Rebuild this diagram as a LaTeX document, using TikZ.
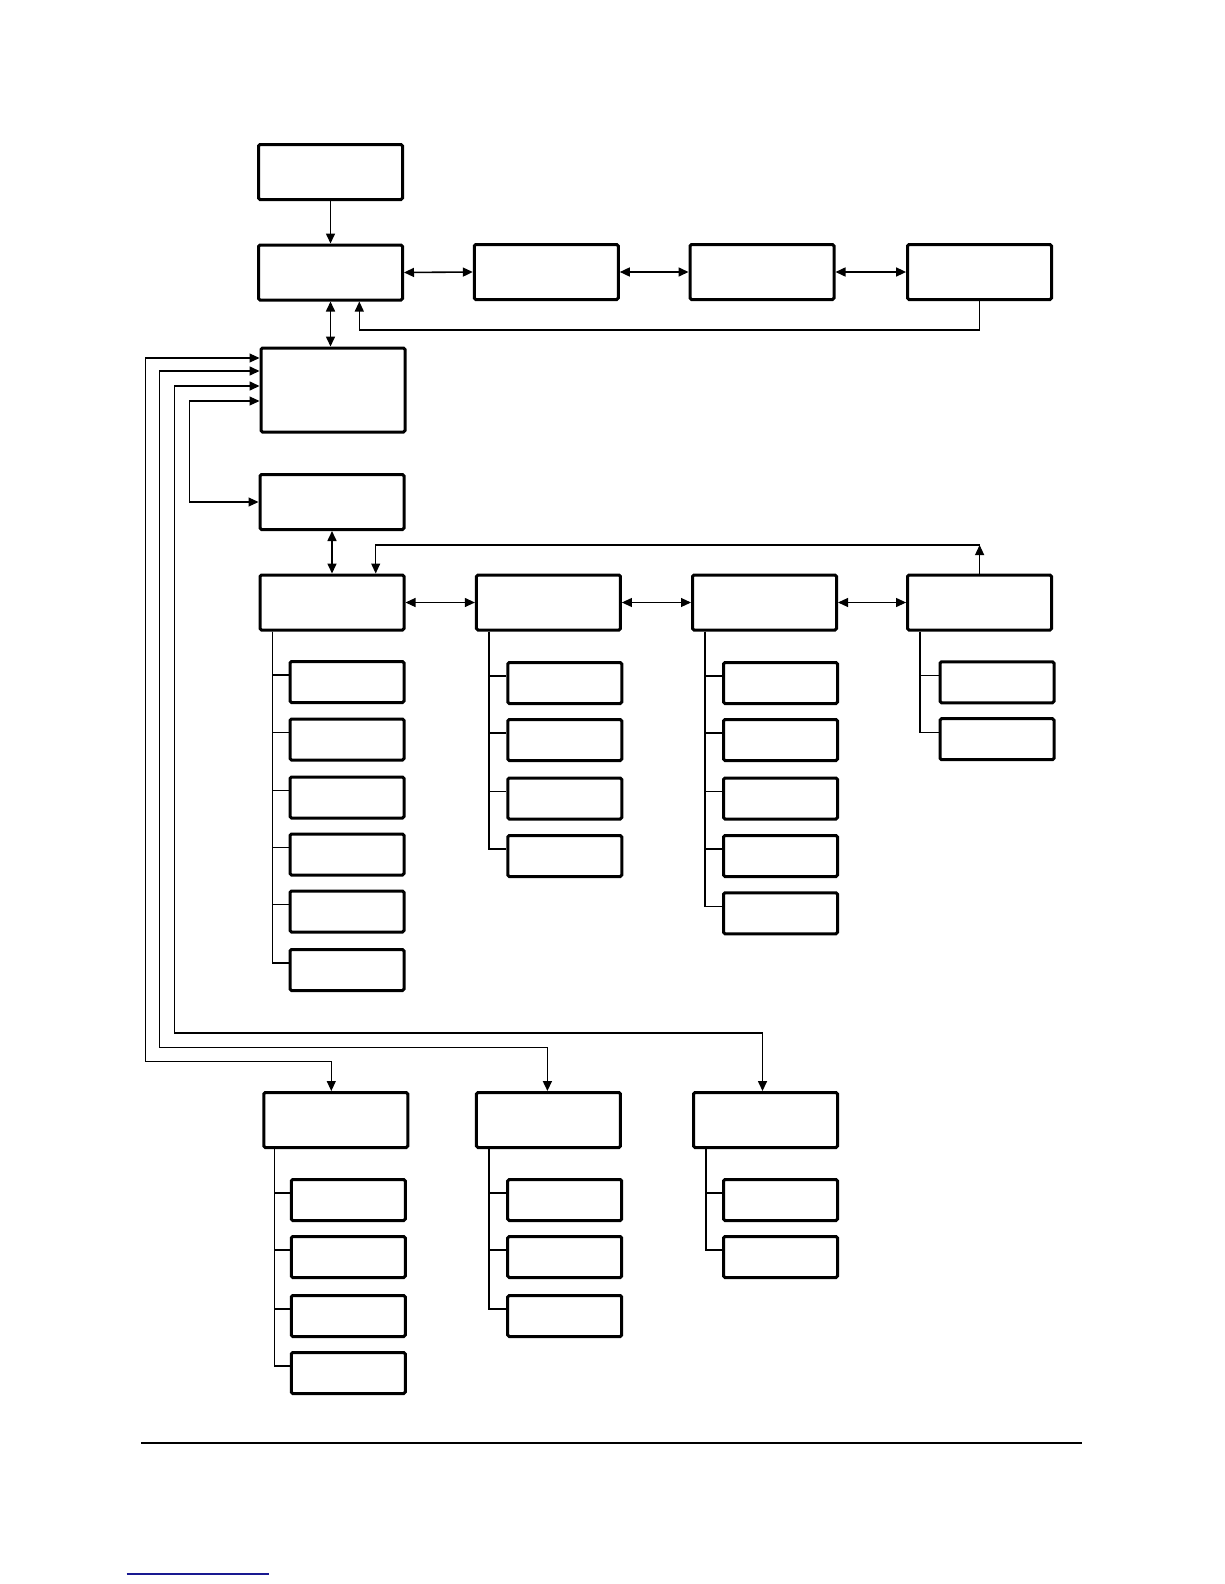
\documentclass[tikz,border=0pt]{standalone}
\usepackage{tikz}
\usetikzlibrary{arrows.meta}
\definecolor{linkblue}{RGB}{25,25,145}

\begin{document}
\begin{tikzpicture}[x=1pt, y=-1pt,
    box/.style={draw, line width=3pt, rounded corners=1.5pt, minimum width=144pt,
                minimum height=55pt, inner sep=0pt},
    tallbox/.style={box, minimum height=84pt},
    kid/.style={draw, line width=3pt, rounded corners=1.5pt, minimum width=114pt,
                minimum height=41pt, inner sep=0pt},
    link/.style={line width=1.6pt},
    feed/.style={line width=1.1pt},
    stem/.style={line width=1.4pt},
    >={Triangle[length=10pt,width=9pt]}
]
\useasboundingbox (0,0) rectangle (1224,1584);

\node[box] (A) at (330.5,172) {};
\node[box] (B) at (330.5,272.5) {};
\node[box] (B2) at (546.3,272) {};
\node[box] (B3) at (762,272) {};
\node[box] (B4) at (979.6,272) {};

\node[tallbox] (C) at (333,390) {};
\node[box] (D) at (332,502) {};

\node[box] (L1) at (332,602.5) {};
\node[box] (L2) at (548.4,602.5) {};
\node[box] (L3) at (764.5,602.5) {};
\node[box] (L4) at (979.6,602.5) {};

\node[box] (E1) at (335.8,1120) {};
\node[box] (E2) at (548.4,1120) {};
\node[box] (E3) at (765.5,1120) {};

\foreach \i/\y in {1/682,2/739.5,3/797.5,4/854.5,5/911.5,6/970}
    \node[kid] (L1k\i) at (347,\y) {};
\foreach \i/\y in {1/683,2/740,3/798.5,4/856}
    \node[kid] (L2k\i) at (564.8,\y) {};
\foreach \i/\y in {1/683,2/740,3/798.5,4/856,5/913.3}
    \node[kid] (L3k\i) at (780.5,\y) {};
\foreach \i/\y in {1/682.3,2/739.2}
    \node[kid] (L4k\i) at (997,\y) {};
\foreach \i/\y in {1/1200,2/1257,3/1316,4/1373}
    \node[kid] (E1k\i) at (348.3,\y) {};
\foreach \i/\y in {1/1200,2/1257,3/1316}
    \node[kid] (E2k\i) at (564.7,\y) {};
\foreach \i/\y in {1/1200,2/1257}
    \node[kid] (E3k\i) at (780.5,\y) {};

\draw[link,->] (A.south) -- (B.north);
\draw[link,<->] (B.east) -- (B2.west);
\draw[link,<->] (B2.east) -- (B3.west);
\draw[link,<->] (B3.east) -- (B4.west);
\coordinate (top back) at (359.3,330);
\draw[feed,->] (B4.south) |- (top back) -- (top back |- B.south);
\draw[link,<->] (B.south) -- (B.south |- C.north);

\draw[feed,<->] ([yshift=32]C.west) -| (145.7,1061.4) -| ([xshift=-4.5]E1.north);
\draw[link,<->] ([yshift=19]C.west) -| (159.3,1047.3) -| ([xshift=-1]E2.north);
\draw[link,<->] ([yshift=4]C.west) -| (174.3,1033.1) -| ([xshift=-3]E3.north);
\draw[feed,<->] ([yshift=-11]C.west) -| (189.3,450) |- (D.west);

\draw[link,<->] (D.south) -- (L1.north);
\draw[feed,<->] (L1.east) -- (L2.west);
\draw[feed,<->] (L2.east) -- (L3.west);
\draw[feed,<->] (L3.east) -- (L4.west);
\coordinate (low back) at (375.7,545);
\draw[feed,->] (L4.north) -- (L4.north |- low back);
\draw[feed,->] (L4.north |- low back) -- (low back) -- (low back |- L1.north);

\foreach \i in {1,...,6}
    \draw[stem] ([xshift=14]L1.south west) |- ([yshift=7]L1k\i.west);
\foreach \i in {1,...,4}
    \draw[stem] ([xshift=14]L2.south west) |- ([yshift=7]L2k\i.west);
\foreach \i in {1,...,5}
    \draw[stem] ([xshift=14]L3.south west) |- ([yshift=7]L3k\i.west);
\foreach \i in {1,2}
    \draw[stem] ([xshift=14]L4.south west) |- ([yshift=7]L4k\i.west);
\foreach \i in {1,...,4}
    \draw[stem] ([xshift=12]E1.south west) |- ([yshift=7]E1k\i.west);
\foreach \i in {1,...,3}
    \draw[stem] ([xshift=14]E2.south west) |- ([yshift=7]E2k\i.west);
\foreach \i in {1,2}
    \draw[stem] ([xshift=14]E3.south west) |- ([yshift=7]E3k\i.west);

\draw[line width=1.2pt] (141,1443) -- (1082,1443);
\draw[line width=1.5pt, linkblue] (126.7,1574) -- (269,1574);
\end{tikzpicture}
\end{document}
